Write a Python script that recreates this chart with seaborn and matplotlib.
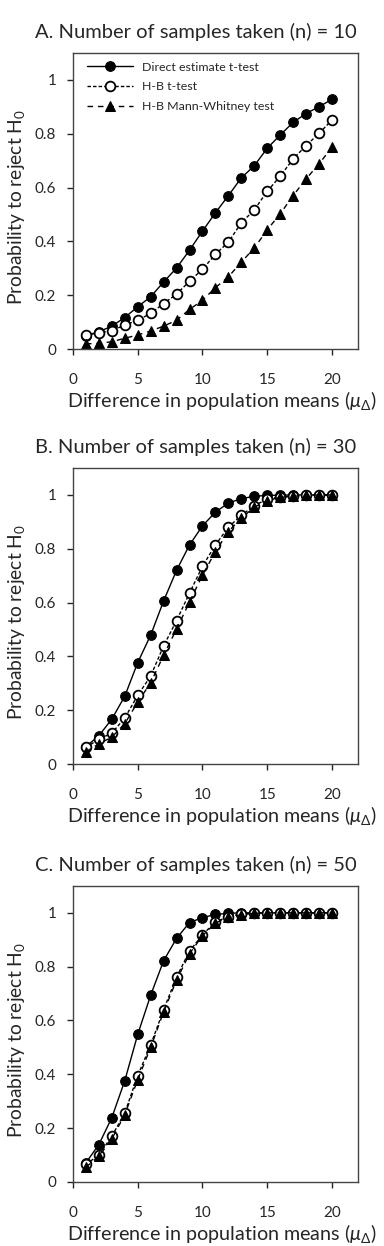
import seaborn as sns
import matplotlib.pyplot as plt
import numpy as np

sns.set_theme(style="ticks")
plt.rcParams['font.family'] = ['Lato', 'DejaVu Sans']
plt.rcParams['mathtext.fontset'] = 'custom'
plt.rcParams['mathtext.rm'] = 'Lato'
plt.rcParams['mathtext.it'] = 'Lato:italic'

diff = list(range(1, 21))

# panel A, n = 10
a_direct = [0.05, 0.064, 0.085, 0.117, 0.157, 0.194, 0.249, 0.301, 0.367, 0.438,
            0.506, 0.570, 0.636, 0.681, 0.746, 0.795, 0.842, 0.875, 0.900, 0.928]
a_hb_t = [0.052, 0.060, 0.068, 0.089, 0.107, 0.132, 0.169, 0.204, 0.252, 0.296,
          0.352, 0.397, 0.469, 0.517, 0.586, 0.642, 0.706, 0.756, 0.801, 0.851]
a_hb_mw = [0.019, 0.021, 0.027, 0.040, 0.052, 0.067, 0.085, 0.107, 0.147, 0.181,
           0.228, 0.268, 0.323, 0.375, 0.443, 0.502, 0.570, 0.632, 0.688, 0.749]

# panel B, n = 30
b_direct = [0.065, 0.105, 0.167, 0.252, 0.377, 0.479, 0.606, 0.720, 0.814, 0.885,
            0.936, 0.970, 0.986, 0.995, 0.998, 0.999, 1.0, 1.0, 1.0, 1.0]
b_hb_t = [0.062, 0.092, 0.115, 0.171, 0.255, 0.327, 0.439, 0.533, 0.635, 0.735,
          0.814, 0.880, 0.924, 0.960, 0.985, 0.992, 0.996, 0.998, 1.0, 1.0]
b_hb_mw = [0.046, 0.075, 0.100, 0.150, 0.230, 0.302, 0.404, 0.502, 0.602, 0.702,
           0.789, 0.864, 0.914, 0.954, 0.979, 0.991, 0.995, 0.998, 1.0, 1.0]

# panel C, n = 50
c_direct = [0.071, 0.139, 0.239, 0.376, 0.548, 0.694, 0.822, 0.905, 0.964, 0.982,
            0.994, 0.998, 1.0, 1.0, 1.0, 1.0, 1.0, 1.0, 1.0, 1.0]
c_hb_t = [0.065, 0.100, 0.170, 0.256, 0.395, 0.509, 0.640, 0.761, 0.858, 0.918,
          0.967, 0.985, 0.996, 0.999, 1.0, 1.0, 1.0, 1.0, 1.0, 1.0]
c_hb_mw = [0.055, 0.095, 0.160, 0.250, 0.380, 0.500, 0.632, 0.750, 0.848, 0.915,
           0.962, 0.983, 0.993, 0.998, 1.0, 1.0, 1.0, 1.0, 1.0, 1.0]

titles = ["A. Number of samples taken (n) = 10",
          "B. Number of samples taken (n) = 30",
          "C. Number of samples taken (n) = 50"]
panels = [(a_direct, a_hb_t, a_hb_mw), (b_direct, b_hb_t, b_hb_mw), (c_direct, c_hb_t, c_hb_mw)]
labels = ["Direct estimate t-test", "H-B t-test", "H-B Mann-Whitney test"]

fig = plt.figure(figsize=(3.84, 12.46), dpi=100)
bottoms = [0.7199, 0.3868, 0.0514]

for i, (title, (d, t, mw)) in enumerate(zip(titles, panels)):
    ax = fig.add_axes([0.190, bottoms[i], 0.742, 0.2376])
    sns.lineplot(x=diff, y=d, ax=ax, color='black', marker='o', markersize=7,
                 linestyle='-', linewidth=1, markeredgecolor='black', label=labels[0])
    sns.lineplot(x=diff, y=t, ax=ax, color='black', marker='o', markersize=7,
                 linestyle=(0, (2.5, 1.5)), linewidth=1, markerfacecolor='white',
                 markeredgecolor='black', markeredgewidth=1.3, label=labels[1])
    sns.lineplot(x=diff, y=mw, ax=ax, color='black', marker='^', markersize=7,
                 linestyle=(0, (4, 3.5)), linewidth=1, markeredgecolor='black', label=labels[2])
    ax.set_xlim(0, 22)
    ax.set_ylim(0, 1.1)
    ax.set_xticks([0, 5, 10, 15, 20])
    ax.set_yticks([0, 0.2, 0.4, 0.6, 0.8, 1])
    ax.set_yticklabels(['0', '0.2', '0.4', '0.6', '0.8', '1'])
    ax.tick_params(axis='x', length=4, width=1, pad=13, labelsize=11)
    ax.tick_params(axis='y', length=4, width=1, pad=8, labelsize=11)
    for s in ax.spines.values():
        s.set_color('#444444')
        s.set_linewidth(1)
    ax.set_xlabel(r'Difference in population means $(\mu_\Delta)$', fontsize=14.2, ha='left')
    ax.xaxis.set_label_coords(-0.021, -0.136)
    ax.set_ylabel(r'Probability to reject H$_0$', fontsize=13.9)
    ax.yaxis.set_label_coords(-0.16, 0.48)
    ax.text(0.43, 1.07, title, transform=ax.transAxes, ha='center', va='center', fontsize=14.5)
    if i == 0:
        ax.legend(loc='upper left', bbox_to_anchor=(0.02, 1.0), frameon=False,
                  fontsize=8.9, handlelength=3.7, handletextpad=0.7,
                  borderaxespad=0.3, labelspacing=0.7)
    else:
        ax.get_legend().remove()

plt.savefig('out.png', dpi=100)
